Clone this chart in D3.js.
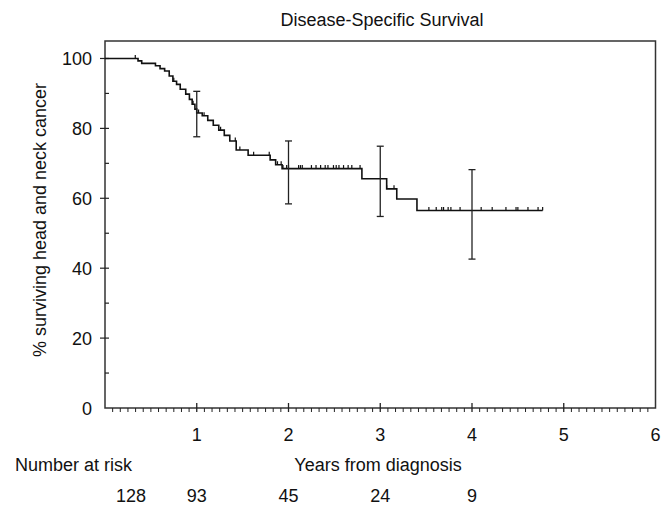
<!DOCTYPE html>
<html>
<head>
<meta charset="utf-8">
<script src="https://cdn.jsdelivr.net/npm/d3@7"></script>
<style>
  html, body { margin: 0; padding: 0; background: #fff; }
  svg { display: block; font-family: "Liberation Sans", Arial, Helvetica, sans-serif; }
</style>
</head>
<body>
<div id="chart"></div>
<script>
// Kaplan-Meier disease-specific survival
const stepYears = [0, 0.36, 0.40, 0.55, 0.60, 0.65, 0.70, 0.74, 0.78, 0.82, 0.88, 0.92, 0.95, 0.98,
    1.00, 1.06, 1.12, 1.18, 1.24, 1.30, 1.36, 1.43, 1.56, 1.80, 1.86, 1.93, 2.80, 3.07, 3.18, 3.40];
const stepSurvival = [100, 99.3, 98.6, 97.9, 97.1, 96.4, 95.0, 93.5, 92.6, 91.2, 89.8, 88.3, 86.9, 85.5,
    84.4, 83.6, 82.3, 80.9, 79.5, 78.0, 76.4, 73.8, 72.3, 71.0, 69.6, 68.5, 65.6, 62.7, 59.8, 56.5];
const lastFollowUp = 4.77;

// censored observations (years)
const censored = [0.33, 0.75, 0.96, 1.02, 1.08, 1.26, 1.42, 1.47, 1.62, 1.79, 1.88, 1.92,
    1.94, 1.98, 2.00, 2.11, 2.13, 2.15, 2.25, 2.30, 2.35, 2.40, 2.43, 2.49, 2.52, 2.55, 2.60, 2.65, 2.69, 2.78,
    3.07, 3.15, 3.53, 3.61, 3.67, 3.69, 3.74, 3.77, 3.87, 4.10, 4.22, 4.37, 4.48, 4.50, 4.61, 4.72, 4.77];

// 95% confidence intervals at whole years
const ciYears = [1, 2, 3, 4];
const ciLower = [77.6, 58.4, 54.8, 42.6];
const ciUpper = [90.6, 76.4, 74.9, 68.2];

const riskYears = [0, 1, 2, 3, 4];
const riskCounts = [128, 93, 45, 24, 9];

const xTicks = [1, 2, 3, 4, 5, 6];
const yTicks = [0, 20, 40, 60, 80, 100];

const W = 671, H = 506;
const mL = 105, mR = 655.5, mT = 41, mB = 408;
const FS = 18;

const x = d3.scaleLinear().domain([0, 6]).range([mL, mR]);
const y = d3.scaleLinear().domain([0, 105]).range([mB, mT]);

const svg = d3.select('#chart').append('svg')
    .attr('width', W).attr('height', H);

// frame
svg.append('rect')
    .attr('x', mL).attr('y', mT)
    .attr('width', mR - mL).attr('height', mB - mT)
    .attr('fill', 'none').attr('stroke', '#333').attr('stroke-width', 1.5);

// x ticks: monthly minor below, yearly major crossing
const g = svg.append('g').attr('stroke', '#222');
d3.range(1, 72).forEach(i => {
    const t = i / 12;
    const major = i % 12 === 0;
    g.append('line')
        .attr('x1', x(t)).attr('x2', x(t))
        .attr('y1', mB + (major ? -5 : 0)).attr('y2', mB + 4)
        .attr('stroke-width', major ? 1.3 : 1);
});
// y ticks: minor every 10 inside, major every 20 crossing
d3.range(10, 101, 10).forEach(v => {
    const major = v % 20 === 0;
    g.append('line')
        .attr('x1', mL - (major ? 5 : 0)).attr('x2', mL + 4)
        .attr('y1', y(v)).attr('y2', y(v))
        .attr('stroke-width', 1.2);
});

svg.append('g').selectAll('text')
    .data(xTicks).join('text')
    .attr('x', d => x(d)).attr('y', 441)
    .attr('text-anchor', 'middle').attr('font-size', FS).attr('fill', '#111')
    .text(d => d);

svg.append('g').selectAll('text')
    .data(yTicks).join('text')
    .attr('x', 92).attr('y', d => y(d) + 6.5)
    .attr('text-anchor', 'end').attr('font-size', FS).attr('fill', '#111')
    .text(d => d);

// survival step curve
const pts = stepYears.map((t, i) => [t, stepSurvival[i]]);
pts.push([lastFollowUp, stepSurvival[stepSurvival.length - 1]]);
const line = d3.line().x(d => x(d[0])).y(d => y(d[1])).curve(d3.curveStepAfter);
svg.append('path')
    .attr('d', line(pts))
    .attr('fill', 'none').attr('stroke', '#111').attr('stroke-width', 1.6);

const survAt = t => stepSurvival[d3.bisectRight(stepYears, t) - 1];

// censor marks
svg.append('g').selectAll('line')
    .data(censored).join('line')
    .attr('x1', d => x(d)).attr('x2', d => x(d))
    .attr('y1', d => y(survAt(d)) - 3.5).attr('y2', d => y(survAt(d)))
    .attr('stroke', '#111').attr('stroke-width', 1.2);

// confidence interval bars
const ci = svg.append('g').attr('stroke', '#222').attr('stroke-width', 1.3);
ciYears.forEach((t, i) => {
    ci.append('line').attr('x1', x(t)).attr('x2', x(t)).attr('y1', y(ciLower[i])).attr('y2', y(ciUpper[i]));
    [ciLower[i], ciUpper[i]].forEach(v => {
        ci.append('line').attr('x1', x(t) - 3.5).attr('x2', x(t) + 3.5).attr('y1', y(v)).attr('y2', y(v));
    });
});

// titles
svg.append('text')
    .attr('x', 382).attr('y', 26).attr('text-anchor', 'middle')
    .attr('font-size', FS).attr('fill', '#111')
    .text('Disease-Specific Survival');

svg.append('text')
    .attr('transform', 'translate(46,220) rotate(-90)')
    .attr('text-anchor', 'middle').attr('font-size', FS).attr('fill', '#111')
    .text('% surviving head and neck cancer');

svg.append('text')
    .attr('x', 378).attr('y', 471).attr('text-anchor', 'middle')
    .attr('font-size', FS).attr('fill', '#111')
    .text('Years from diagnosis');

svg.append('text')
    .attr('x', 15).attr('y', 471)
    .attr('font-size', FS).attr('fill', '#111')
    .text('Number at risk');

svg.append('g').selectAll('text')
    .data(riskCounts).join('text')
    .attr('x', (d, i) => x(riskYears[i]) + (i === 0 ? 26 : 0)).attr('y', 502)
    .attr('text-anchor', 'middle').attr('font-size', FS).attr('fill', '#111')
    .text(d => d);
</script>
</body>
</html>
